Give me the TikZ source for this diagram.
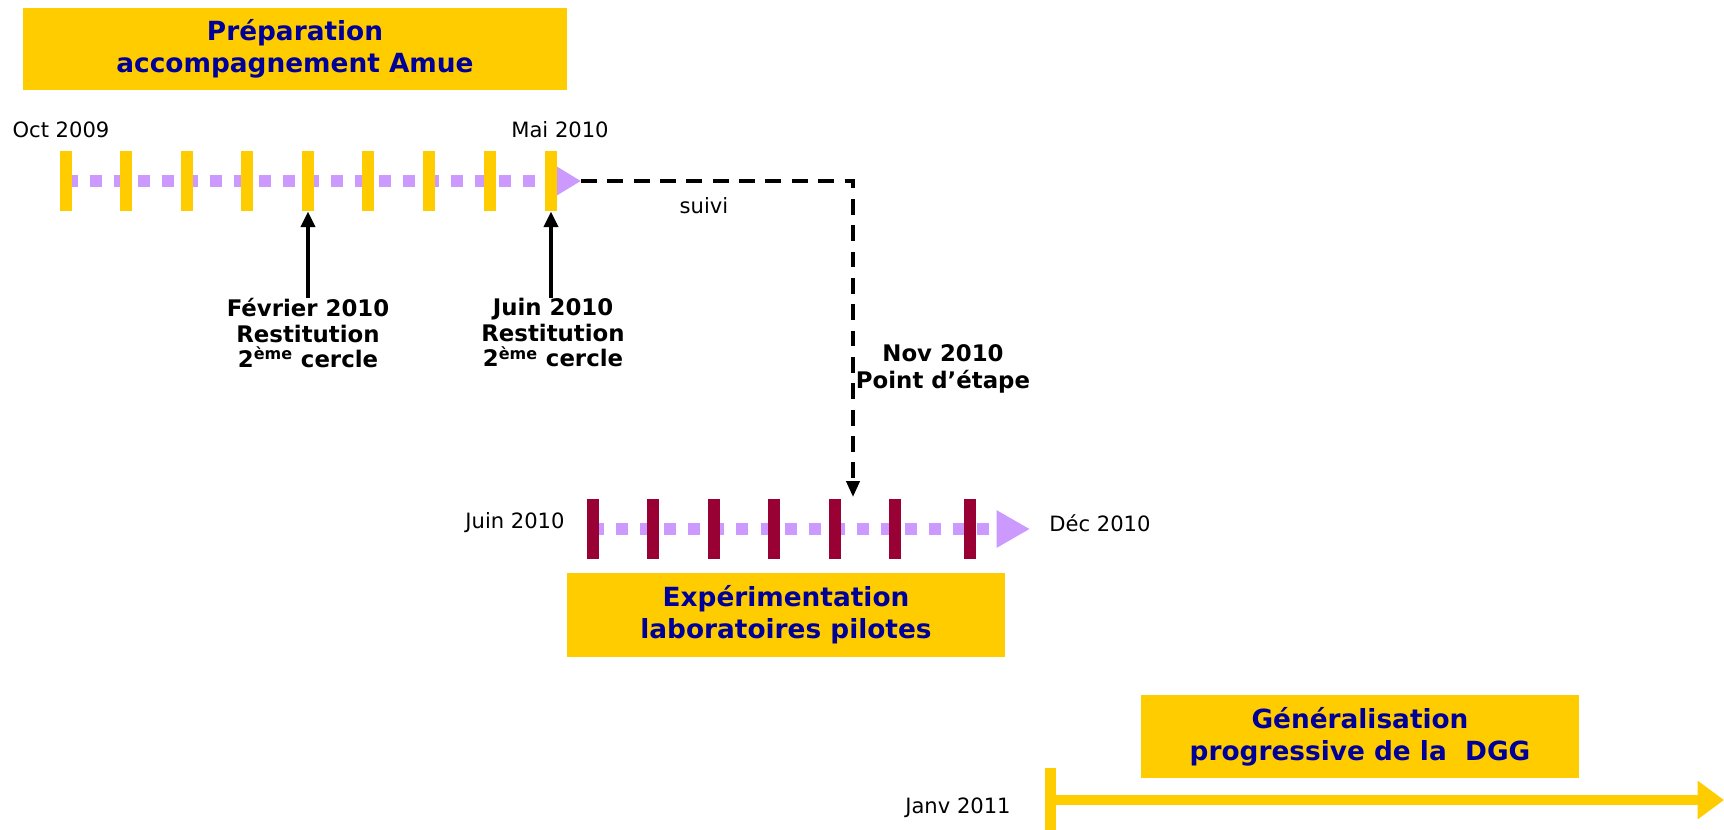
\documentclass[tikz,border=0pt]{standalone}
\usepackage{fontspec}
\setmainfont{DejaVu Sans}
\usepackage{tikz}
\usetikzlibrary{arrows.meta}
\definecolor{jaune}{HTML}{FFCC00}
\definecolor{mauve}{HTML}{CC99FF}
\definecolor{bordeaux}{HTML}{990033}
\definecolor{marine}{HTML}{000099}

\tikzset{
  titre/.style={fill=jaune,text=marine,font=\fontsize{15}{18}\selectfont\bfseries,align=center,inner sep=0pt},
  datelbl/.style={font=\fontsize{12}{14}\selectfont,inner sep=0pt},
  etape/.style={font=\fontsize{13}{14.5}\selectfont\bfseries,align=center,inner sep=0pt},
  trait/.style={fill=#1,minimum width=0.24cm,minimum height=1.2cm,inner sep=0pt},
  pointille/.style={mauve,line width=6.8pt,dash pattern=on 6.8pt off 6.9pt},
  suivifl/.style={line width=2pt,dash pattern=on 9pt off 6pt,-{Triangle[length=9pt,width=7.4pt]}},
  montee/.style={line width=2.2pt,-{Triangle[length=9pt,width=8pt]}}
}

\begin{document}
\begin{tikzpicture}[x=0.02cm,y=-0.02cm]
\useasboundingbox (0,0) rectangle (1724,829);

\node[titre,minimum width=10.88cm,minimum height=1.64cm] (prep) at (295,49) {Préparation\\accompagnement Amue};
\node[datelbl] (oct) at (61,130) {Oct 2009};
\node[datelbl] (mai) at (560,130) {Mai 2010};

\coordinate (deb1) at (66,181);
\coordinate (fin1) at (581,181);
\draw[pointille,-{Triangle[length=13.6pt,width=15.3pt]}] (deb1) -- (fin1);
\foreach \x [count=\i] in {66,126,187,247,308,368,429,490,551}
  \node[trait=jaune] (h\i) at (\x,181) {};

\node[etape,anchor=north] (fev) at (308,298) {Février 2010\\Restitution\\2\textsuperscript{ème} cercle};
\node[etape,anchor=north] (juin) at (553,298) {Juin 2010\\Restitution\\2\textsuperscript{ème} cercle};
\draw[montee] (h5.south |- fev.north) -- (h5.south);
\draw[montee] (h9.south |- juin.north) -- (h9.south);

\coordinate (nov) at (853,497);
\draw[suivifl] (fin1) -| (nov);
\node[datelbl] (suivi) at (704,206) {suivi};
\node[etape,font=\fontsize{13}{15.5}\selectfont\bfseries] (point) at (943,369) {Nov 2010\\Point d’étape};

\node[datelbl] (juin2) at (515,523) {Juin 2010};
\node[datelbl] (dec) at (1100,523) {Déc 2010};
\coordinate (deb2) at (592,529);
\coordinate (fin2) at (1030,529);
\draw[pointille,-{Triangle[length=19pt,width=20pt]}] (deb2) -- (fin2);
\foreach \x [count=\i] in {593,653,714,774,835,895,970}
  \node[trait=bordeaux] (b\i) at (\x,528.5) {};

\node[titre,minimum width=8.76cm,minimum height=1.68cm] (exp) at (786,615) {Expérimentation\\laboratoires pilotes};

\node[titre,minimum width=8.76cm,minimum height=1.66cm] (gen) at (1360,736.5) {Généralisation\\progressive de la~ DGG};
\node[datelbl] (janv) at (958,808) {Janv 2011};
\node[fill=jaune,minimum width=0.22cm,minimum height=1.3cm,inner sep=0pt] (barre) at (1050,800) {};
\coordinate (fin3) at (1724,800);
\draw[jaune,line width=6.2pt,-{Triangle[length=15pt,width=21pt]}] (barre.center) -- (fin3);
\end{tikzpicture}
\end{document}
